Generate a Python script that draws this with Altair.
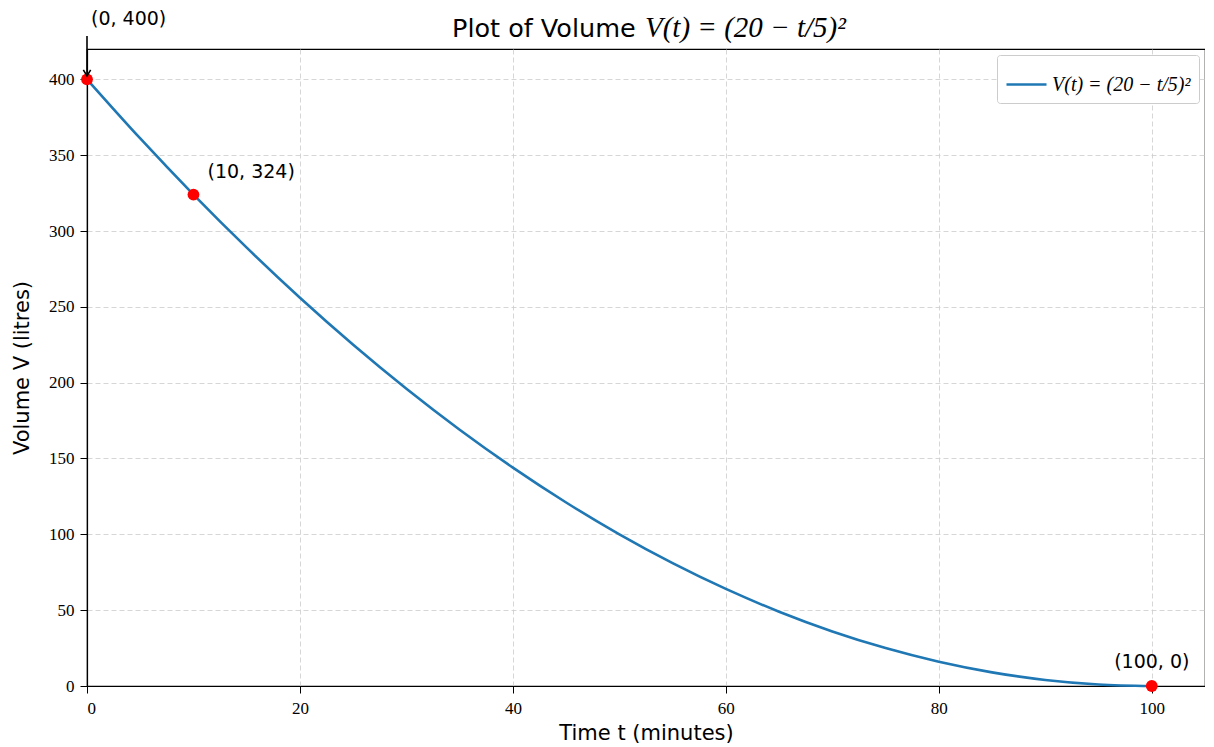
import altair as alt
import pandas as pd

# curve values (t in minutes, V in litres)
t_values = [0, 5, 10, 15, 20, 25, 30, 35, 40, 45, 50, 55, 60, 65, 70, 75, 80, 85, 90, 95, 100]
v_values = [400, 361, 324, 289, 256, 225, 196, 169, 144, 121, 100, 81, 64, 49, 36, 25, 16, 9, 4, 1, 0]

# highlighted points
pt_t = [0, 10, 100]
pt_v = [400, 324, 0]
pt_labels = ["(0, 400)", "(10, 324)", "(100, 0)"]

series_name = "V(t) = (20 − t/5)²"

curve = pd.DataFrame({"t": t_values, "V": v_values, "series": series_name})
pts = pd.DataFrame({"t": pt_t, "V": pt_v, "label": pt_labels})

W, H = 1118, 637
xs = alt.Scale(domain=[0, 105], nice=False, zero=False)
ys = alt.Scale(domain=[0, 420], nice=False, zero=False)

xaxis = alt.Axis(values=[0, 20, 40, 60, 80, 100], title="Time t (minutes)",
                 titleY=47, titleBaseline="middle", labelPadding=7)
yaxis = alt.Axis(values=[0, 50, 100, 150, 200, 250, 300, 350, 400], title="Volume V (litres)",
                 titleX=-65, titleY=H / 2, titleAngle=-90, titleAlign="center",
                 titleBaseline="middle", labelPadding=6)

line = alt.Chart(curve).mark_line(strokeWidth=2.6, interpolate="monotone").encode(
    x=alt.X("t:Q", scale=xs, axis=xaxis),
    y=alt.Y("V:Q", scale=ys, axis=yaxis),
    color=alt.Color("series:N", scale=alt.Scale(range=["#1f77b4"]),
                    legend=alt.Legend(title=None, orient="top-right", offset=6,
                                      symbolType="stroke", symbolStrokeWidth=2.6,
                                      symbolSize=1600, labelFont="Liberation Serif",
                                      labelFontStyle="italic", labelFontSize=20,
                                      padding=8, cornerRadius=3,
                                      strokeColor="#cccccc", fillColor="white")),
)

points = alt.Chart(pts).mark_point(filled=True, size=140, color="red", opacity=1).encode(
    x=alt.X("t:Q", scale=xs), y=alt.Y("V:Q", scale=ys)
)

base_lbl = alt.Chart(pts)
lbl0 = base_lbl.transform_filter(alt.datum.t == 0).mark_text(
    align="left", baseline="middle", dx=4, dy=-60, font="DejaVu Sans", fontSize=19, color="black"
).encode(x=alt.X("t:Q", scale=xs), y=alt.Y("V:Q", scale=ys), text="label:N")
lbl1 = base_lbl.transform_filter(alt.datum.t == 10).mark_text(
    align="left", baseline="middle", dx=14, dy=-23, font="DejaVu Sans", fontSize=19, color="black"
).encode(x=alt.X("t:Q", scale=xs), y=alt.Y("V:Q", scale=ys), text="label:N")
lbl2 = base_lbl.transform_filter(alt.datum.t == 100).mark_text(
    align="center", baseline="middle", dx=0, dy=-24, font="DejaVu Sans", fontSize=19, color="black"
).encode(x=alt.X("t:Q", scale=xs), y=alt.Y("V:Q", scale=ys), text="label:N")

arrow = base_lbl.transform_filter(alt.datum.t == 0).mark_rule(color="black", strokeWidth=1.6).encode(
    x=alt.X("t:Q", scale=xs), y=alt.value(-13), y2=alt.value(26)
)
arrowhead = base_lbl.transform_filter(alt.datum.t == 0).mark_point(
    shape="M -0.6 -1 L 0 0 L 0.6 -1", filled=False, color="black", strokeWidth=1.6,
    size=150, opacity=1
).encode(x=alt.X("t:Q", scale=xs), y=alt.value(27))

title_a = alt.Chart(pts).transform_filter(alt.datum.t == 0).mark_text(
    align="left", baseline="alphabetic", font="DejaVu Sans", fontSize=25.5, color="black"
).encode(x=alt.value(365), y=alt.value(-12), text=alt.value("Plot of Volume"))
title_b = alt.Chart(pts).transform_filter(alt.datum.t == 0).mark_text(
    align="left", baseline="alphabetic", font="Liberation Serif", fontStyle="italic",
    fontSize=29, color="black"
).encode(x=alt.value(558), y=alt.value(-12), text=alt.value(series_name))

chart = alt.layer(line, points, lbl0, lbl1, lbl2, arrow, arrowhead, title_a, title_b).properties(
    width=W, height=H,
    autosize=alt.AutoSizeParams(type="none"),
    padding={"left": 79, "top": 41, "right": 0, "bottom": 58},
).configure_view(stroke="black", strokeWidth=1.2).configure_axis(
    domainColor="black", domainWidth=1.2, tickColor="black", tickSize=7,
    labelFont="Liberation Serif", labelFontSize=17, labelColor="black",
    titleFont="DejaVu Sans", titleFontSize=21, titleFontWeight="normal", titleColor="black",
    gridColor="#cccccc", gridDash=[5, 3], gridWidth=0.8,
)

chart.save("out.html", embed_options={"renderer": "svg", "actions": False})
